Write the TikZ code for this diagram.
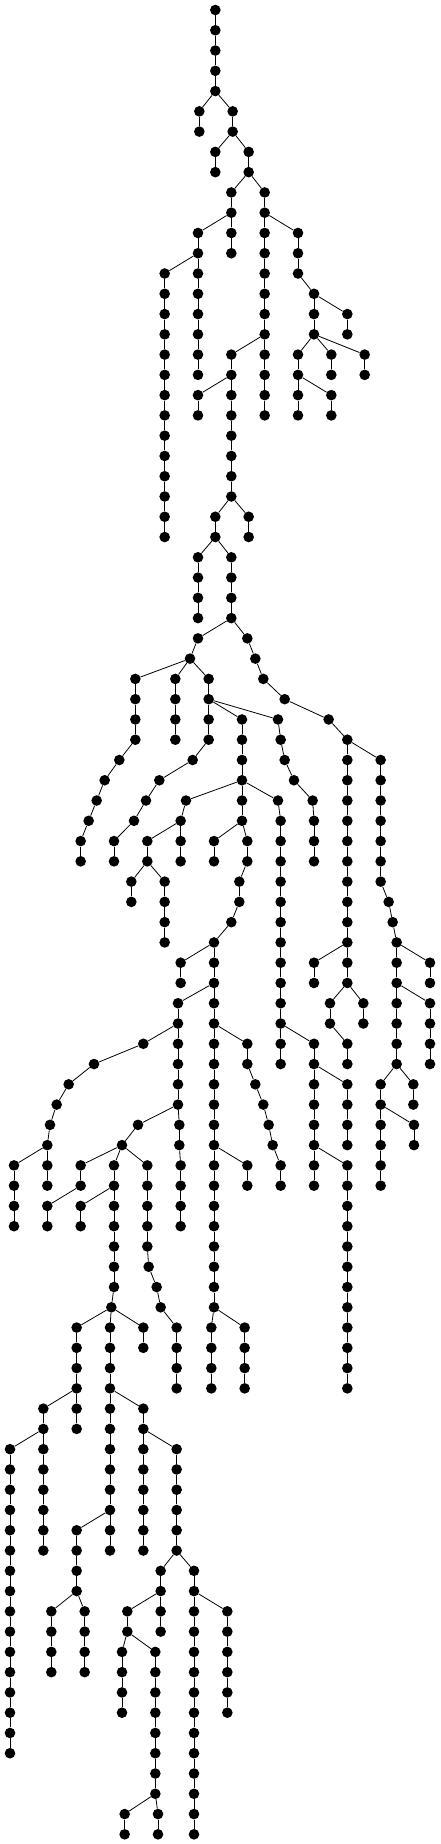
\documentclass[tikz,border=0pt]{standalone}
\usepackage{tikz}
\tikzset{
  dot/.style={circle,fill=black,draw=none,inner sep=0pt,minimum size=10.6pt},
  edge/.style={draw=black,line width=0.8pt}
}
% child of (parent level #1, parent x #2) at x #3, one level lower
\newcommand{\tC}[3]{\pgfmathtruncatemacro{\tcl}{#1+1}%
  \node[dot] (n\tcl x#3) at (#3,\tcl) {};%
  \draw[edge] (n#1x#2) -- (n\tcl x#3);}
% vertical chain at x #3 from existing level #1 down to level #2
\newcommand{\tV}[3]{\pgfmathtruncatemacro{\tvs}{#1+1}%
  \foreach \tlev in {\tvs,...,#2}{\pgfmathtruncatemacro{\tprev}{\tlev-1}%
    \node[dot] (n\tlev x#3) at (#3,\tlev) {};%
    \draw[edge] (n\tprev x#3) -- (n\tlev x#3);}}
\begin{document}
\begin{tikzpicture}[x=0.333333pt,y=-20.27pt]
\useasboundingbox (0pt,10pt) rectangle (440pt,-1834pt);
\node[dot] (n0x646) at (646,0) {};
\tV{0}{4}{646}
\tC{4}{646}{598} \tC{4}{646}{698}
\tV{5}{6}{598} \tV{5}{6}{698}
\tC{6}{698}{646} \tC{6}{698}{746}
\tV{7}{8}{646} \tV{7}{8}{746}
\tC{8}{746}{694} \tC{8}{746}{794}
\tV{9}{10}{694} \tV{9}{10}{794}
\tC{10}{694}{594} \tC{10}{694}{694} \tC{10}{794}{794} \tC{10}{794}{894}
\tV{11}{12}{594} \tV{11}{12}{694}
\tC{12}{594}{494} \tC{12}{594}{594}
\tV{13}{26}{494} \tV{13}{18}{594}
\tV{11}{16}{794}
\tC{16}{794}{694} \tC{16}{794}{794}
\tV{17}{20}{794}
\tV{17}{18}{694}
\tC{18}{694}{594} \tC{18}{694}{694}
\tV{19}{20}{594}
\tV{19}{24}{694}
\tC{24}{694}{646} \tC{24}{694}{746}
\tV{25}{26}{646} \tV{25}{26}{746}
\tC{26}{646}{594} \tC{26}{646}{694}
\tV{27}{30}{594} \tV{27}{30}{694}
\tC{30}{694}{594} \tC{30}{694}{742}
% top right
\tV{11}{13}{894} \tC{13}{894}{942} \tV{14}{16}{942} \tC{14}{942}{1042} \tV{15}{16}{1042}
\tC{16}{942}{894} \tC{16}{942}{994} \tC{16}{942}{1094}
\tV{17}{20}{894} \tC{18}{894}{994} \tV{19}{20}{994} \tV{17}{18}{994} \tV{17}{18}{1094}
% left part
\tC{31}{594}{570}
\tC{32}{570}{406} \tC{32}{570}{526} \tC{32}{570}{626}
\tV{33}{36}{406} \tV{33}{36}{526} \tV{33}{36}{626}
\tC{36}{406}{358} \tC{37}{358}{314} \tC{38}{314}{290} \tC{39}{290}{266} \tC{40}{266}{242} \tV{41}{42}{242}
\tC{34}{626}{726} \tC{34}{626}{834}
\tC{36}{626}{578} \tC{37}{578}{478} \tC{38}{478}{438} \tC{39}{438}{402} \tC{40}{402}{342} \tV{41}{42}{342}
\tV{35}{40}{726}
\tC{38}{726}{558} \tC{38}{726}{834}
\tC{39}{558}{542} \tV{40}{42}{542} \tC{40}{542}{442}
\tV{41}{42}{442} \tC{42}{442}{394} \tC{42}{442}{494} \tV{43}{44}{394} \tV{43}{46}{494}
\tC{40}{726}{642} \tC{40}{726}{742} \tV{41}{42}{642} \tV{41}{42}{742}
\tC{42}{742}{718} \tV{43}{44}{718} \tC{44}{718}{694} \tC{45}{694}{642}
\tC{46}{642}{542} \tV{47}{48}{542}
\tV{46}{64}{642}
\tC{48}{642}{534} \tV{49}{54}{534}
\tC{50}{642}{742} \tV{51}{52}{742} \tC{52}{742}{766} \tC{53}{766}{790} \tC{54}{790}{806} \tC{55}{806}{818} \tC{56}{818}{842} \tV{57}{58}{842}
\tC{56}{642}{742} \tV{57}{58}{742}
\tC{64}{642}{634} \tC{64}{642}{734} \tV{65}{68}{634} \tV{65}{68}{734}
\tC{50}{534}{430} \tC{51}{430}{282} \tC{52}{282}{206} \tC{53}{206}{170} \tC{54}{170}{150} \tC{55}{150}{142}
\tC{56}{142}{42} \tC{56}{142}{142} \tV{57}{60}{42} \tV{57}{58}{142}
\tC{54}{534}{414} \tC{54}{534}{538} \tC{55}{538}{538} \tC{56}{538}{542} \tV{57}{60}{542}
\tC{55}{414}{366} \tC{56}{366}{242} \tC{56}{366}{342} \tC{56}{366}{442}
\tV{57}{58}{242} \tC{58}{242}{142} \tV{59}{60}{142}
\tV{57}{63}{342} \tC{58}{342}{242} \tV{59}{60}{242}
\tC{63}{342}{334} \tC{64}{334}{230} \tC{64}{334}{330} \tC{64}{334}{430}
\tV{57}{61}{442} \tC{61}{442}{446} \tC{62}{446}{470} \tC{63}{470}{482} \tC{64}{482}{530} \tV{65}{68}{530}
\tV{65}{66}{430}
\tV{65}{70}{230} \tC{68}{230}{130}
\tV{65}{76}{330} \tC{68}{330}{430} \tC{74}{330}{230}
\tV{69}{76}{130} \tC{70}{130}{30} \tV{71}{86}{30}
\tV{69}{76}{430} \tC{70}{430}{530} \tV{71}{76}{530}
\tC{76}{530}{482} \tC{76}{530}{582}
\tV{75}{78}{230} \tC{78}{230}{154} \tC{78}{230}{254} \tV{79}{82}{154} \tV{79}{82}{254}
\tV{77}{80}{482} \tC{78}{482}{382} \tV{79}{80}{382} \tC{80}{382}{366} \tC{80}{382}{466} \tV{81}{84}{366} \tV{81}{88}{466}
\tC{88}{466}{374} \tC{88}{466}{474} \tV{89}{90}{374} \tV{89}{90}{474}
\tV{77}{90}{582} \tC{78}{582}{682} \tV{79}{84}{682}
% right part
\tC{31}{742}{766} \tC{32}{766}{790} \tC{33}{790}{854} \tC{34}{854}{986} \tC{35}{986}{1042}
\tV{36}{48}{1042} \tC{36}{1042}{1142} \tV{37}{43}{1142} \tC{43}{1142}{1166} \tC{44}{1166}{1178} \tC{45}{1178}{1190}
\tV{46}{52}{1190} \tC{46}{1190}{1290} \tV{47}{48}{1290} \tC{48}{1190}{1290} \tV{49}{52}{1290}
\tC{52}{1190}{1142} \tC{52}{1190}{1240} \tV{53}{54}{1240}
\tV{53}{58}{1142} \tC{54}{1142}{1242} \tV{55}{56}{1242}
\tC{46}{1042}{942} \tV{47}{48}{942} \tC{48}{1042}{990} \tC{48}{1042}{1090} \tV{49}{50}{990} \tV{49}{50}{1090} \tC{50}{990}{1042} \tV{51}{52}{1042}
\tC{35}{834}{842} \tC{36}{842}{854} \tC{37}{854}{882} \tC{38}{882}{938} \tC{39}{938}{942} \tV{40}{42}{942}
\tC{39}{834}{842} \tV{40}{52}{842} \tC{50}{842}{942} \tV{51}{58}{942} \tC{52}{942}{1042} \tV{53}{56}{1042} \tC{56}{942}{1042} \tV{57}{68}{1042}
\end{tikzpicture}
\end{document}
